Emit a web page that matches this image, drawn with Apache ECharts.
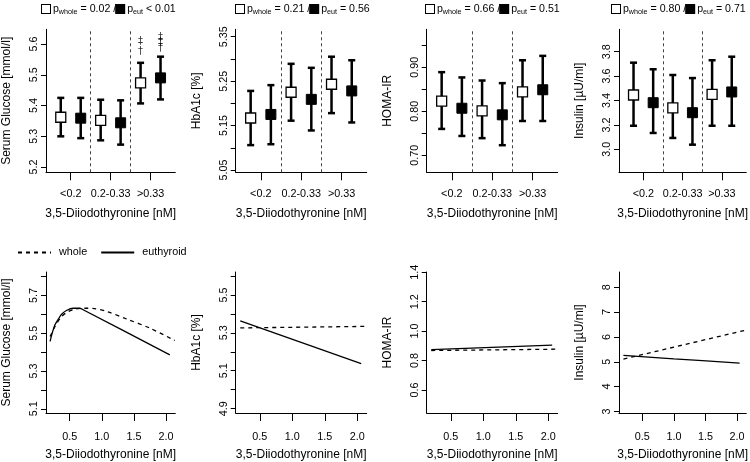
<!DOCTYPE html>
<html><head><meta charset="utf-8">
<script src="https://cdn.jsdelivr.net/npm/echarts@6/dist/echarts.min.js"></script>
<style>html,body{margin:0;padding:0;background:#fff}#c{width:750px;height:462px}</style>
</head><body><div id="c"></div>
<script>
// ---------- data ----------
const groups = ['<0.2', '0.2-0.33', '>0.33'];
const xTitle = '3,5-Diiodothyronine [nM]';

// top row: means with 95% CI; whole cohort (open) and euthyroid (filled)
const glucoseWhole   = [5.362, 5.352, 5.474];
const glucoseWholeLo = [5.300, 5.287, 5.407];
const glucoseWholeHi = [5.425, 5.419, 5.539];
const glucoseEut     = [5.359, 5.344, 5.490];
const glucoseEutLo   = [5.294, 5.273, 5.420];
const glucoseEutHi   = [5.425, 5.417, 5.559];
const glucoseMarksWhole = ['', '', '‡\n†'];
const glucoseMarksEut   = ['', '', '‡\n‡\n†'];

const hba1cWhole   = [5.167, 5.225, 5.243];
const hba1cWholeLo = [5.106, 5.161, 5.178];
const hba1cWholeHi = [5.228, 5.289, 5.305];
const hba1cEut     = [5.175, 5.209, 5.228];
const hba1cEutLo   = [5.108, 5.139, 5.157];
const hba1cEutHi   = [5.241, 5.280, 5.297];

const homaWhole   = [0.823, 0.801, 0.844];
const homaWholeLo = [0.760, 0.739, 0.778];
const homaWholeHi = [0.889, 0.870, 0.916];
const homaEut     = [0.807, 0.792, 0.849];
const homaEutLo   = [0.744, 0.723, 0.778];
const homaEutHi   = [0.877, 0.864, 0.926];

const insulinWhole   = [3.445, 3.339, 3.451];
const insulinWholeLo = [3.193, 3.093, 3.193];
const insulinWholeHi = [3.710, 3.609, 3.730];
const insulinEut     = [3.382, 3.300, 3.470];
const insulinEutLo   = [3.134, 3.038, 3.193];
const insulinEutHi   = [3.656, 3.584, 3.759];

const pWhole = ['0.02', '0.21', '0.66', '0.80'];
const pEut   = ['< 0.01', '= 0.56', '= 0.51', '= 0.71'];

// bottom row: fitted curves
const glucWholeX = [0.194, 0.270, 0.373, 0.475, 0.577, 0.731, 0.884, 1.088, 1.395, 1.753, 2.136];
const glucWholeY = [5.483, 5.536, 5.589, 5.615, 5.628, 5.633, 5.631, 5.615, 5.575, 5.527, 5.462];
const glucEutX   = [0.194, 0.219, 0.270, 0.322, 0.373, 0.449, 0.552, 0.654, 0.731, 2.060];
const glucEutY   = [5.457, 5.492, 5.545, 5.575, 5.601, 5.621, 5.633, 5.633, 5.621, 5.386];

const hbaWholeX = [0.20, 2.145];
const hbaWholeY = [5.326, 5.334];
const hbaEutX   = [0.20, 2.06];
const hbaEutY   = [5.363, 5.137];

const homaWholeX = [0.20, 2.145];
const homaWholeY = [0.868, 0.877];
const homaEutX   = [0.20, 2.06];
const homaEutY   = [0.874, 0.905];

const insWholeX = [0.20, 2.15];
const insWholeY = [5.11, 6.28];
const insEutX   = [0.20, 1.00, 2.04];
const insEutY   = [5.26, 5.12, 4.945];

// axis ticks
const topTicks = [
  {min: 5.183, max: 5.648, ticks: [5.2, 5.3, 5.4, 5.5, 5.6], labels: [5.2, 5.3, 5.4, 5.5, 5.6], dec: 1, name: 'Serum Glucose [mmol/l]'},
  {min: 5.0448, max: 5.3667, ticks: [5.05, 5.10, 5.15, 5.20, 5.25, 5.30, 5.35], labels: [5.05, 5.15, 5.25, 5.35], dec: 2, name: 'HbA1c [%]'},
  {min: 0.6614, max: 0.9864, ticks: [0.70, 0.75, 0.80, 0.85, 0.90, 0.95], labels: [0.70, 0.80, 0.90], dec: 2, name: 'HOMA-IR'},
  {min: 2.8115, max: 3.9836, ticks: [3.0, 3.2, 3.4, 3.6, 3.8], labels: [3.0, 3.2, 3.4, 3.6, 3.8], dec: 1, name: 'Insulin [µU/ml]'}
];
const bottomTicks = [
  {min: 5.078, max: 5.825, ticks: [5.1, 5.2, 5.3, 5.4, 5.5, 5.6, 5.7, 5.8], labels: [5.1, 5.3, 5.5, 5.7], dec: 1, name: 'Serum Glucose [mmol/l]'},
  {min: 4.877, max: 5.621, ticks: [4.9, 5.0, 5.1, 5.2, 5.3, 5.4, 5.5, 5.6], labels: [4.9, 5.1, 5.3, 5.5], dec: 1, name: 'HbA1c [%]'},
  {min: 0.443, max: 1.402, ticks: [0.6, 0.8, 1.0, 1.2, 1.4], labels: [0.6, 0.8, 1.0, 1.2, 1.4], dec: 1, name: 'HOMA-IR'},
  {min: 2.936, max: 8.615, ticks: [3, 4, 5, 6, 7, 8], labels: [3, 4, 5, 6, 7, 8], dec: 0, name: 'Insulin [µU/ml]'}
];
const curveTicksX = [0.5, 1.0, 1.5, 2.0];

// ---------- layout ----------
const FONT = 'Liberation Sans';
const L = [44.3, 235.7, 426.7, 619];
const TITLE_LEFT = [42, 236, 426, 612];
const W = 131;
const TOP1 = 29.3, H1 = 143;
const TOP2 = 272, H2 = 141.3;

const topData = [
  [glucoseWhole, glucoseWholeLo, glucoseWholeHi, glucoseEut, glucoseEutLo, glucoseEutHi],
  [hba1cWhole, hba1cWholeLo, hba1cWholeHi, hba1cEut, hba1cEutLo, hba1cEutHi],
  [homaWhole, homaWholeLo, homaWholeHi, homaEut, homaEutLo, homaEutHi],
  [insulinWhole, insulinWholeLo, insulinWholeHi, insulinEut, insulinEutLo, insulinEutHi]
];
const bottomData = [
  [glucWholeX, glucWholeY, glucEutX, glucEutY],
  [hbaWholeX, hbaWholeY, hbaEutX, hbaEutY],
  [homaWholeX, homaWholeY, homaEutX, homaEutY],
  [insWholeX, insWholeY, insEutX, insEutY]
];

const grid = new Array(8), xAxis = new Array(8), yAxis = new Array(8), series = [], title = [];

function yAx(idx, t) {
  return {
    type: 'value', gridIndex: idx, min: t.min, max: t.max,
    name: t.name, nameLocation: 'middle', nameGap: 33, nameRotate: 90,
    nameTextStyle: {fontSize: 12, color: '#000', fontFamily: FONT},
    axisLine: {show: true, onZero: false, lineStyle: {color: '#000', width: 1}},
    axisTick: {show: true, length: 5, customValues: t.ticks, lineStyle: {color: '#000', width: 1}},
    axisLabel: {customValues: t.labels, rotate: 90, margin: 6, fontSize: 10.8, color: '#000', fontFamily: FONT,
                formatter: v => Number(v).toFixed(t.dec)},
    splitLine: {show: false}
  };
}

const errRender = function (params, api) {
  const x = api.value(0), lo = api.value(1), hi = api.value(2);
  const a = api.coord([x, lo]), b = api.coord([x, hi]);
  const cw = 3.5;
  const st = {stroke: '#000', lineWidth: 2.5};
  return {type: 'group', children: [
    {type: 'line', shape: {x1: a[0], y1: a[1], x2: b[0], y2: b[1]}, style: st},
    {type: 'line', shape: {x1: a[0] - cw, y1: a[1], x2: a[0] + cw, y2: a[1]}, style: st},
    {type: 'line', shape: {x1: b[0] - cw, y1: b[1], x2: b[0] + cw, y2: b[1]}, style: st}
  ]};
};

for (let i = 0; i < 4; i++) {
  // ---- top panel ----
  grid[i] = {left: L[i], top: TOP1, width: W, height: H1};
  xAxis[i] = {
    type: 'value', gridIndex: i, min: 0.38, max: 3.62,
    name: xTitle, nameLocation: 'middle', nameGap: 35,
    nameTextStyle: {fontSize: 12, color: '#000', fontFamily: FONT},
    axisLine: {show: true, onZero: false, lineStyle: {color: '#000', width: 1}},
    axisTick: {show: true, length: 8, customValues: groups.map((g, k) => k + 1), lineStyle: {color: '#000'}},
    axisLabel: {customValues: groups.map((g, k) => k + 1), margin: 16, fontSize: 10.8, color: '#000', fontFamily: FONT,
                formatter: v => groups[Math.round(v) - 1]},
    splitLine: {show: false}
  };
  yAxis[i] = yAx(i, topTicks[i]);
  const d = topData[i];
  series.push({
    type: 'custom', xAxisIndex: i, yAxisIndex: i, renderItem: errRender,
    encode: {x: 0, y: [1, 2]},
    data: groups.map((g, k) => [k + 1 - 0.25, d[1][k], d[2][k]]),
    markLine: {silent: true, symbol: 'none', label: {show: false},
      lineStyle: {color: '#444', width: 1, type: [3, 3]},
      data: groups.slice(1).map((g, k) => ({xAxis: k + 1.5}))}
  });
  series.push({
    type: 'custom', xAxisIndex: i, yAxisIndex: i, renderItem: errRender,
    encode: {x: 0, y: [1, 2]},
    data: groups.map((g, k) => [k + 1 + 0.25, d[4][k], d[5][k]])
  });
  series.push({
    type: 'scatter', xAxisIndex: i, yAxisIndex: i, symbol: 'rect', symbolSize: 10, z: 5,
    itemStyle: {color: '#fff', borderColor: '#000', borderWidth: 1.3, opacity: 1},
    data: groups.map((g, k) => [k + 1 - 0.25, d[0][k]])
  });
  series.push({
    type: 'scatter', xAxisIndex: i, yAxisIndex: i, symbol: 'rect', symbolSize: 10, z: 5,
    itemStyle: {color: '#000', borderColor: '#000', borderWidth: 1, opacity: 1},
    data: groups.map((g, k) => [k + 1 + 0.25, d[3][k]])
  });
  title.push({
    text: `{b| }{p| p}{s|whole}{t| = ${pWhole[i]} /}{f| }{p| p}{s|eut}{t| ${pEut[i]}}`,
    left: TITLE_LEFT[i], top: 2, textAlign: 'left', padding: 0,
    textStyle: {fontWeight: 'normal', rich: {
      b: {width: 8, height: 8, borderColor: '#000', borderWidth: 1, backgroundColor: '#fff'},
      f: {width: 8, height: 8, borderColor: '#000', borderWidth: 1, backgroundColor: '#000'},
      p: {fontSize: 10.6, lineHeight: 14, color: '#000', fontFamily: FONT, fontWeight: 'normal'},
      t: {fontSize: 10.6, lineHeight: 14, color: '#000', fontFamily: FONT, fontWeight: 'normal'},
      s: {fontSize: 7.2, lineHeight: 10, verticalAlign: 'bottom', color: '#000', fontFamily: FONT, fontWeight: 'normal'}
    }}
  });

  // ---- bottom panel ----
  const j = i + 4;
  grid[j] = {left: L[i], top: TOP2, width: W, height: H2};
  xAxis[j] = {
    type: 'value', gridIndex: j, min: 0.13, max: 2.145,
    name: xTitle, nameLocation: 'middle', nameGap: 36,
    nameTextStyle: {fontSize: 12, color: '#000', fontFamily: FONT},
    axisLine: {show: true, onZero: false, lineStyle: {color: '#000', width: 1}},
    axisTick: {show: true, length: 8, customValues: curveTicksX, lineStyle: {color: '#000'}},
    axisLabel: {customValues: curveTicksX, margin: 19, fontSize: 10.8, color: '#000', fontFamily: FONT,
                formatter: v => Number(v).toFixed(1)},
    splitLine: {show: false}
  };
  yAxis[j] = yAx(j, bottomTicks[i]);
  const c = bottomData[i];
  series.push({
    name: 'whole', type: 'line', xAxisIndex: j, yAxisIndex: j, symbol: 'none', smooth: i === 0 ? 0.3 : false,
    lineStyle: {color: '#000', width: 1.3, type: [4, 4]}, itemStyle: {color: '#000'},
    data: c[0].map((x, k) => [x, c[1][k]])
  });
  series.push({
    name: 'euthyroid', type: 'line', xAxisIndex: j, yAxisIndex: j, symbol: 'none',
    smooth: (i === 0 || i === 3) ? 0.3 : false,
    lineStyle: {color: '#000', width: 1.3, type: 'solid'}, itemStyle: {color: '#000'},
    data: c[2].map((x, k) => [x, c[3][k]])
  });
}

// significance marks above the highest glucose group
function markSeries(meansHi, marks, dx, lh) {
  return {
    type: 'scatter', xAxisIndex: 0, yAxisIndex: 0, symbolSize: 0, z: 6, silent: true,
    data: marks.map((m, k) => ({value: [k + 1 + dx, meansHi[k]], m})).filter(o => o.m),
    label: {show: true, position: 'top', distance: 6, formatter: p => p.data.m,
            fontSize: 10, lineHeight: lh, color: '#000', fontFamily: 'DejaVu Sans'}
  };
}
series.push(markSeries(glucoseWholeHi, glucoseMarksWhole, -0.25, 10));
series.push(markSeries(glucoseEutHi, glucoseMarksEut, 0.25, 5.5));

const chart = echarts.init(document.getElementById('c'), null, {renderer: 'canvas'});
chart.setOption({
  animation: false,
  backgroundColor: '#fff',
  textStyle: {fontFamily: FONT},
  title,
  legend: {
    left: 17, top: 247, padding: 0, itemWidth: 33, itemHeight: 12, itemGap: 13, selectedMode: false,
    data: ['whole', 'euthyroid'],
    itemStyle: {opacity: 0},
    textStyle: {fontSize: 10.8, color: '#000', fontFamily: FONT, padding: [0, 0, 0, 3]}
  },
  grid, xAxis, yAxis, series
});
</script>
</body></html>
